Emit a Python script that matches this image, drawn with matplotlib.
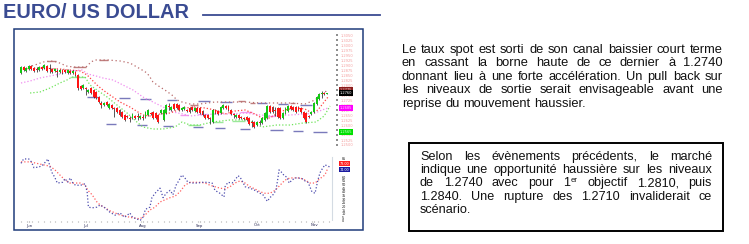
import matplotlib
matplotlib.use("Agg")
import matplotlib.pyplot as plt
import numpy as np
from matplotlib.patches import Rectangle
from matplotlib.lines import Line2D
from matplotlib.font_manager import FontProperties

W, H = 749, 244

# daily EUR/USD candles, in pips above 1.0000 (2860 -> 1.2860)
opens = [2860, 2890, 2870, 2880, 2895, 2885, 2880, 2875, 2890, 2885,
         2895, 2885, 2880, 2870, 2870, 2865, 2875, 2875, 2860, 2870,
         2860, 2865, 2850, 2795, 2785, 2785, 2765, 2785, 2775, 2765,
         2740, 2710, 2700, 2715, 2685, 2700, 2685, 2685, 2675, 2665,
         2650, 2645, 2635, 2635, 2645, 2645, 2635, 2640, 2640, 2650,
         2660, 2665, 2660, 2650, 2660, 2625, 2660, 2695, 2675, 2705,
         2705, 2700, 2675, 2680, 2675, 2685, 2690, 2670, 2685, 2685,
         2670, 2650, 2650, 2635, 2615, 2675, 2670, 2660, 2685, 2695,
         2695, 2675, 2655, 2640, 2650, 2640, 2635, 2640, 2635, 2615,
         2615, 2600, 2615, 2610, 2625, 2635, 2695, 2690, 2675, 2685,
         2685, 2635, 2660, 2670, 2695, 2690, 2690, 2690, 2685, 2665,
         2660, 2645, 2655, 2665, 2705, 2730, 2755, 2760, 2755]
highs = [2895, 2895, 2890, 2900, 2900, 2890, 2890, 2895, 2895, 2905,
         2900, 2905, 2885, 2885, 2880, 2880, 2880, 2880, 2880, 2875,
         2875, 2870, 2855, 2800, 2805, 2790, 2780, 2790, 2780, 2770,
         2745, 2720, 2715, 2720, 2710, 2705, 2690, 2690, 2680, 2670,
         2655, 2650, 2645, 2660, 2650, 2660, 2650, 2650, 2670, 2680,
         2665, 2670, 2665, 2655, 2680, 2680, 2705, 2710, 2695, 2710,
         2710, 2705, 2690, 2695, 2680, 2690, 2695, 2690, 2690, 2690,
         2675, 2655, 2655, 2640, 2680, 2680, 2675, 2695, 2705, 2700,
         2700, 2680, 2660, 2655, 2655, 2645, 2640, 2645, 2640, 2625,
         2620, 2620, 2625, 2640, 2665, 2700, 2700, 2695, 2690, 2690,
         2690, 2665, 2690, 2700, 2700, 2695, 2695, 2695, 2690, 2670,
         2665, 2650, 2670, 2715, 2745, 2760, 2770, 2765, 2760]
lows = [2855, 2870, 2865, 2875, 2875, 2865, 2865, 2870, 2875, 2880,
        2865, 2860, 2860, 2865, 2840, 2860, 2855, 2860, 2855, 2855,
        2855, 2845, 2775, 2775, 2780, 2750, 2760, 2755, 2735, 2730,
        2710, 2685, 2695, 2695, 2680, 2680, 2640, 2660, 2645, 2635,
        2620, 2635, 2615, 2630, 2630, 2625, 2630, 2625, 2635, 2645,
        2650, 2630, 2630, 2610, 2655, 2620, 2655, 2675, 2670, 2675,
        2680, 2670, 2670, 2675, 2665, 2660, 2670, 2665, 2660, 2655,
        2645, 2630, 2630, 2605, 2610, 2655, 2650, 2655, 2680, 2680,
        2670, 2650, 2635, 2635, 2630, 2630, 2625, 2620, 2600, 2590,
        2585, 2595, 2600, 2605, 2620, 2630, 2660, 2660, 2645, 2635,
        2630, 2630, 2655, 2665, 2675, 2670, 2660, 2670, 2660, 2630,
        2610, 2635, 2650, 2660, 2700, 2725, 2735, 2750, 2755]
closes = [2890, 2875, 2885, 2895, 2880, 2870, 2875, 2890, 2880, 2900,
          2870, 2880, 2865, 2880, 2865, 2875, 2860, 2865, 2875, 2860,
          2870, 2850, 2785, 2780, 2800, 2780, 2775, 2760, 2740, 2735,
          2715, 2700, 2710, 2700, 2705, 2685, 2680, 2665, 2650, 2640,
          2625, 2640, 2630, 2655, 2635, 2640, 2645, 2635, 2665, 2675,
          2655, 2635, 2635, 2615, 2675, 2675, 2700, 2690, 2690, 2680,
          2685, 2675, 2685, 2690, 2670, 2665, 2675, 2685, 2665, 2660,
          2650, 2635, 2635, 2630, 2675, 2660, 2655, 2690, 2700, 2685,
          2675, 2655, 2650, 2650, 2635, 2635, 2630, 2625, 2605, 2610,
          2590, 2615, 2610, 2635, 2660, 2695, 2665, 2665, 2670, 2640,
          2635, 2660, 2685, 2695, 2680, 2675, 2665, 2675, 2665, 2635,
          2615, 2640, 2665, 2710, 2740, 2755, 2760, 2755, 2760]

# indicator lines (bar, pips)
ma_fast = [(0, 2880), (7.3, 2885), (15, 2880), (22.8, 2870), (25.5, 2850), (29.3, 2800),
           (31.6, 2775), (34.3, 2750), (38.2, 2715), (42, 2690), (45.1, 2665), (47, 2650),
           (49.7, 2645), (53.6, 2655), (57.5, 2660), (60.5, 2675), (63.2, 2685), (67.1, 2690),
           (71, 2685), (74.8, 2675), (78.7, 2655), (82.5, 2670), (86.4, 2675), (90.2, 2655),
           (92.9, 2635), (96, 2635), (99.1, 2660), (101.8, 2675), (105.7, 2685), (109.5, 2680),
           (112.2, 2660), (114.5, 2675), (116.9, 2715), (118.4, 2740)]
ma_mid = [(0, 2810), (3.5, 2820), (7.3, 2835), (11.2, 2845), (15, 2855), (18.9, 2870),
          (23.5, 2875), (25.8, 2855), (28.9, 2845), (31.6, 2835), (35.5, 2825), (39.3, 2800),
          (43.2, 2775), (47, 2740), (50.9, 2715), (54.8, 2690), (58.6, 2665), (62.5, 2655),
          (65.2, 2645), (69, 2650), (74.8, 2655), (80.6, 2655), (86.4, 2660), (92.2, 2650),
          (98, 2645), (103.7, 2650), (109.5, 2655), (113.4, 2660), (116.1, 2675), (118.4, 2685)]
band_up = [(2.7, 2890), (5.4, 2900), (8.5, 2915), (11.6, 2920), (13.9, 2915), (15.8, 2905),
           (17.4, 2895), (20.1, 2890), (25.1, 2890), (27, 2915), (28.5, 2925), (33.6, 2925),
           (38.2, 2920), (40.1, 2915), (42, 2910), (44.7, 2890), (46.7, 2875), (48.6, 2860),
           (49.7, 2840), (50.9, 2815), (53.6, 2790), (55.5, 2775), (58.2, 2750), (60.2, 2725),
           (62.1, 2715), (65.2, 2705), (69, 2705), (74.8, 2715), (80.6, 2715), (86.4, 2715),
           (92.2, 2710), (98, 2710), (103.7, 2710), (109.5, 2705), (113.4, 2725), (116.1, 2755),
           (118.4, 2775)]
band_low = [(3.5, 2760), (7.3, 2765), (11.2, 2785), (15, 2810), (17.7, 2825), (19.7, 2840),
            (24.7, 2840), (26.6, 2800), (29.3, 2775), (33.2, 2740), (37, 2700), (40.9, 2660),
            (44.7, 2615), (47, 2590), (50.9, 2580), (54.8, 2580), (59.4, 2590), (62.1, 2615),
            (65.2, 2600), (69, 2600), (73.7, 2615), (80.6, 2625), (87.5, 2625), (92.9, 2590),
            (98.7, 2600), (103.7, 2600), (108.8, 2610), (113.8, 2615), (116.9, 2645), (119.2, 2695)]

# horizontal pivot segments (bar start, bar end, pips)
supports = [(25.5, 29.7, 2740), (32.8, 36.6, 2605), (37.8, 42.0, 2735), (44.7, 48.6, 2600),
            (45.9, 50.1, 2730), (54.8, 58.6, 2595), (56.3, 60.2, 2725), (66.3, 70.2, 2590),
            (68.3, 72.9, 2720), (74.8, 78.7, 2585), (76.7, 81.4, 2715), (84.5, 88.3, 2580),
            (91, 94.9, 2710), (96, 101, 2575), (99.1, 103, 2705), (104.9, 108.8, 2570),
            (107.6, 112.2, 2700), (112.6, 118, 2565)]
resistances = [(10, 13.5, 2920), (20, 25.1, 2890), (30.1, 33.6, 2925), (65.2, 68.3, 2700),
               (83.7, 86.4, 2720), (88.3, 90.2, 2710), (103.7, 105.7, 2710)]
green_segs = [(18.9, 24.7, 2840), (64.4, 69, 2600), (74, 77.9, 2615), (81.4, 86.4, 2620)]
pink_segs = [(61.3, 64.4, 2650), (68.3, 71.7, 2655), (84.5, 89.1, 2665), (94.1, 98, 2645)]

# oscillator (bar, value 0-100)
osc_fast = [(0, 79), (1, 85), (3, 85), (4, 81), (5, 73), (7, 74), (8.5, 77), (10.4, 85),
            (11.2, 74), (12, 66), (13, 60), (14, 52), (16, 53), (17, 58), (18, 53), (19, 59),
            (20, 52), (21, 49), (23, 49), (24.7, 51), (25.5, 40), (26, 19), (27.4, 18),
            (29.3, 19), (30.5, 22), (32.4, 18), (34.3, 12), (36.3, 8), (37.4, 10), (38.2, 11),
            (40, 5), (42, 11), (43, 5), (46, 1), (47, 5), (48, 16), (49.7, 19), (50.5, 32),
            (51.7, 38), (52.8, 42), (53.6, 45), (54.8, 32), (56, 38), (57.5, 42), (58.6, 36),
            (59.8, 49), (61, 56), (62, 63), (63, 60), (64.4, 53), (66, 52), (68, 52), (70, 53),
            (72, 53), (73.7, 52), (74.8, 42), (76.7, 38), (78.3, 33), (78.7, 47), (79.8, 53),
            (81.4, 52), (82.5, 56), (83.7, 62), (84.5, 60), (85.6, 53), (86.4, 47), (88.3, 45),
            (90.2, 42), (92.2, 38), (93.3, 36), (95, 27), (96, 32), (97.2, 36), (98.3, 42),
            (99.1, 59), (99.5, 70), (100.7, 66), (101.5, 62), (102.6, 60), (103.4, 52),
            (104.5, 56), (105.7, 59), (106.8, 59), (108.4, 58), (109.5, 55), (110.7, 53),
            (111.4, 47), (112.2, 40), (113.4, 38), (114.5, 56), (115.3, 66), (116.1, 71),
            (117.2, 77), (118.4, 75), (119.2, 74)]
osc_slow = [(0, 81), (3.5, 81), (7.3, 78), (11.2, 75), (13.1, 70), (15, 63), (17, 56),
            (18.9, 52), (20.8, 52), (22.8, 52), (24.7, 49), (25.8, 42), (27.4, 36), (29.3, 26),
            (30.5, 22), (32.4, 18), (34.3, 14), (36.3, 11), (38.2, 8), (40.1, 7), (42, 5),
            (44, 4), (45.9, 3), (47.8, 8), (49.7, 15), (51.7, 19), (53.6, 26), (55.5, 29),
            (57.5, 32), (59.4, 34), (61.3, 40), (63.2, 49), (65.2, 53), (67.1, 53), (69, 53),
            (71, 52), (72.9, 49), (74.8, 47), (76.7, 45), (78.7, 44), (80.6, 47), (82.5, 52),
            (84.5, 55), (86.4, 52), (88.3, 47), (90.2, 44), (92.2, 40), (94.1, 38), (96, 38),
            (98, 42), (99.9, 49), (101.8, 56), (103.7, 59), (105.7, 59), (107.6, 59),
            (109.5, 56), (111.5, 52), (113.4, 52), (115.3, 58), (117.2, 63), (118.4, 73)]

month_bars = [3, 25, 47, 69, 91, 113]
month_names = ["Jun", "Jul", "Aug", "Sep", "Oct", "Nov"]

title = "EURO/ US DOLLAR"
comment_lines = ["Le taux spot est sorti de son canal baissier court terme",
                 "en cassant la borne haute de ce dernier à 1.2740",
                 "donnant lieu à une forte accélération. Un pull back sur",
                 "les niveaux de sortie serait envisageable avant une",
                 "reprise du mouvement haussier."]
box_lines = ["Selon les évènements précédents, le marché",
             "indique une opportunité haussière sur les niveaux",
             "de 1.2740 avec pour 1^er objectif 1.2810, puis",
             "1.2840. Une rupture des 1.2710 invaliderait ce",
             "scénario."]


def rect(x0, y0, x1, y1):
    return [x0 / W, 1 - y1 / H, (x1 - x0) / W, (y1 - y0) / H]


def fx(x):
    return x / W


def fy(y):
    return 1 - y / H


def px(p):
    return 1 + np.asarray(p, dtype=float) / 10000.0


fig = plt.figure(figsize=(W / 100, H / 100), dpi=100)
fig.patch.set_facecolor("white")

blue = "#3a4b92"
fig.text(fx(3), fy(18.5), title, fontsize=14.4, fontweight="bold",
         family="Liberation Sans", color=blue, va="baseline")
fig.add_artist(Line2D([fx(203), fx(380)], [fy(15), fy(15)], color=blue, lw=1.3))
fig.add_artist(Rectangle((fx(14), fy(230)), (363 - 14) / W, (230 - 28.5) / H,
                         transform=fig.transFigure, fill=False, ec="#1f3c7a", lw=1.1))

# ---- price panel
xlim = (-5 / 2.593, 315 / 2.593)
ax = fig.add_axes(rect(16, 31, 336, 146))
ax.set_xlim(*xlim)
ax.set_ylim(1.2495, 1.3070)
for s in ax.spines.values():
    s.set_visible(False)
ax.set_xticks([])
ax.yaxis.tick_right()
price_ticks = np.arange(1.2500, 1.30501, 0.0025)
ax.set_yticks(price_ticks)
ax.set_yticklabels([f"{t:.4f}" for t in price_ticks])
ax.tick_params(axis="y", direction="out", length=1.5, width=1.4, color="#8c8c8c",
               labelsize=2.6, labelcolor="#f4a0a0", pad=1.5)

o, hi, lo, c = px(opens), px(highs), px(lows), px(closes)
x = np.arange(len(c))
up = c >= o


def dotted(a, pts, color, lw=0.9, z=1.5, dash=(1, 1.6)):
    xs, ys = zip(*pts)
    a.plot(xs, px(ys) if a is ax else ys, color=color, lw=lw, ls=(0, dash), zorder=z)


def segs(items, color, lw=1.0):
    for x0, x1, v in items:
        ax.hlines(px(v), x0, x1, color=color, lw=lw, zorder=1.2)


segs(supports, "#7a7abb")
segs(resistances, "#c08080")
segs(green_segs, "#9be89b")
segs(pink_segs, "#f59af0")
dotted(ax, band_up, "#b86a6a", dash=(1, 2.2))
dotted(ax, band_low, "#6fe35a")
dotted(ax, ma_mid, "#f08cf0")
dotted(ax, ma_fast, "#ff4040")

ax.vlines(x, lo, hi, color="#2a2a2a", lw=0.55, zorder=2)
ax.bar(x[up], (c - o)[up], bottom=o[up], width=0.72, color="#14c814", lw=0, zorder=3)
ax.bar(x[~up], (o - c)[~up], bottom=c[~up], width=0.72, color="#ff1414", lw=0, zorder=3)

# current values on the right scale
lab_x = 1.012
for val, fc, tc in [(band_up[-1][1], "#8b1c1c", "#f0c0c0"), (closes[-1], "black", "white"),
                    (ma_mid[-1][1], "#ff00ff", "#ffd0ff"), (supports[-1][2], "#00e000", "#d0ffd0")]:
    ax.text(lab_x, px(val), f"{px(val):.4f}", transform=ax.get_yaxis_transform(),
            fontsize=2.6, color=tc, va="center", ha="left",
            bbox=dict(boxstyle="square,pad=0.25", fc=fc, ec="none"), clip_on=False)

# ---- oscillator panel
ax2 = fig.add_axes(rect(16, 148, 336, 221))
ax2.set_xlim(*xlim)
ax2.set_ylim(0, 100)
for s in ax2.spines.values():
    s.set_visible(False)
ax2.yaxis.tick_right()
osc_ticks = [0, 5, 10, 15, 20, 25, 30, 35, 40, 45, 50, 55, 60, 85]
ax2.set_yticks(osc_ticks)
ax2.set_yticklabels([f"{t:.0f}" for t in osc_ticks])
ax2.tick_params(axis="y", length=0, labelsize=2.4, labelcolor="#111111", pad=4)
ax2.set_xticks(month_bars)
ax2.set_xticklabels(month_names)
ax2.set_xticks(np.arange(0, 120, 2.2), minor=True)
ax2.tick_params(axis="x", which="major", length=1, width=0.8, color="#999999",
                labelsize=2.8, labelcolor="#2a2a55", pad=0.8)
ax2.tick_params(axis="x", which="minor", length=1, width=0.8, color="#aaaaaa")
ax2.axvline(119.9, ymin=0.01, ymax=0.88, color="#d4dbe3", lw=0.8)
dotted(ax2, osc_slow, "#ff6060")
dotted(ax2, osc_fast, "#4c4cae")
ax2.text(lab_x, osc_slow[-1][1] + 3, f"{osc_slow[-1][1]:.2f}", transform=ax2.get_yaxis_transform(),
         fontsize=2.4, color="white", va="bottom", ha="left",
         bbox=dict(boxstyle="square,pad=0.2", fc="#ff2020", ec="none"), clip_on=False)
ax2.text(lab_x, osc_fast[-1][1] - 1, f"{osc_fast[-1][1]:.2f}", transform=ax2.get_yaxis_transform(),
         fontsize=2.4, color="white", va="top", ha="left",
         bbox=dict(boxstyle="square,pad=0.2", fc="#1a1aa0", ec="none"), clip_on=False)

# ---- justified commentary (one text per word, baselines kept on whole pixels)
renderer = fig.canvas.get_renderer()
font = FontProperties(family="Liberation Sans", size=9.3)
font_box = FontProperties(family="Liberation Sans", size=9.1)
small = FontProperties(family="Liberation Sans", size=5.6)


def width(s, prop):
    return renderer.get_text_width_height_descent(s, prop, ismath=False)[0]


def justify(lines, x0, x1, y0, dy, prop):
    for k, line in enumerate(lines):
        words = line.split()
        ws = []
        for w in words:
            if "^" in w:
                b, sup = w.split("^")
                ws.append(width(b, prop) + width(sup, small))
            else:
                ws.append(width(w, prop))
        last = k == len(lines) - 1
        gap = width(" ", prop) if last else (x1 - x0 - sum(ws)) / (len(words) - 1)
        xx = x0
        y = round(y0 + k * dy) + 0.2
        for w, wd in zip(words, ws):
            if "^" in w:
                b, sup = w.split("^")
                fig.text(fx(xx), fy(y), b, fontproperties=prop, va="baseline", color="#111111")
                fig.text(fx(xx + width(b, prop)), fy(y - 4), sup, fontproperties=small,
                         va="baseline", color="#111111")
            else:
                fig.text(fx(xx), fy(y), w, fontproperties=prop, va="baseline", color="#111111")
            xx += wd + gap


justify(comment_lines, 402, 723, 53, 13.4, font)
fig.add_artist(Rectangle((fx(409), fy(230.5)), (722.5 - 409) / W, (230.5 - 143.3) / H,
                         transform=fig.transFigure, fill=False, ec="black", lw=1.4))
justify(box_lines, 420, 712, 160, 13.2, font_box)

fig.savefig("out.png", dpi=100)
